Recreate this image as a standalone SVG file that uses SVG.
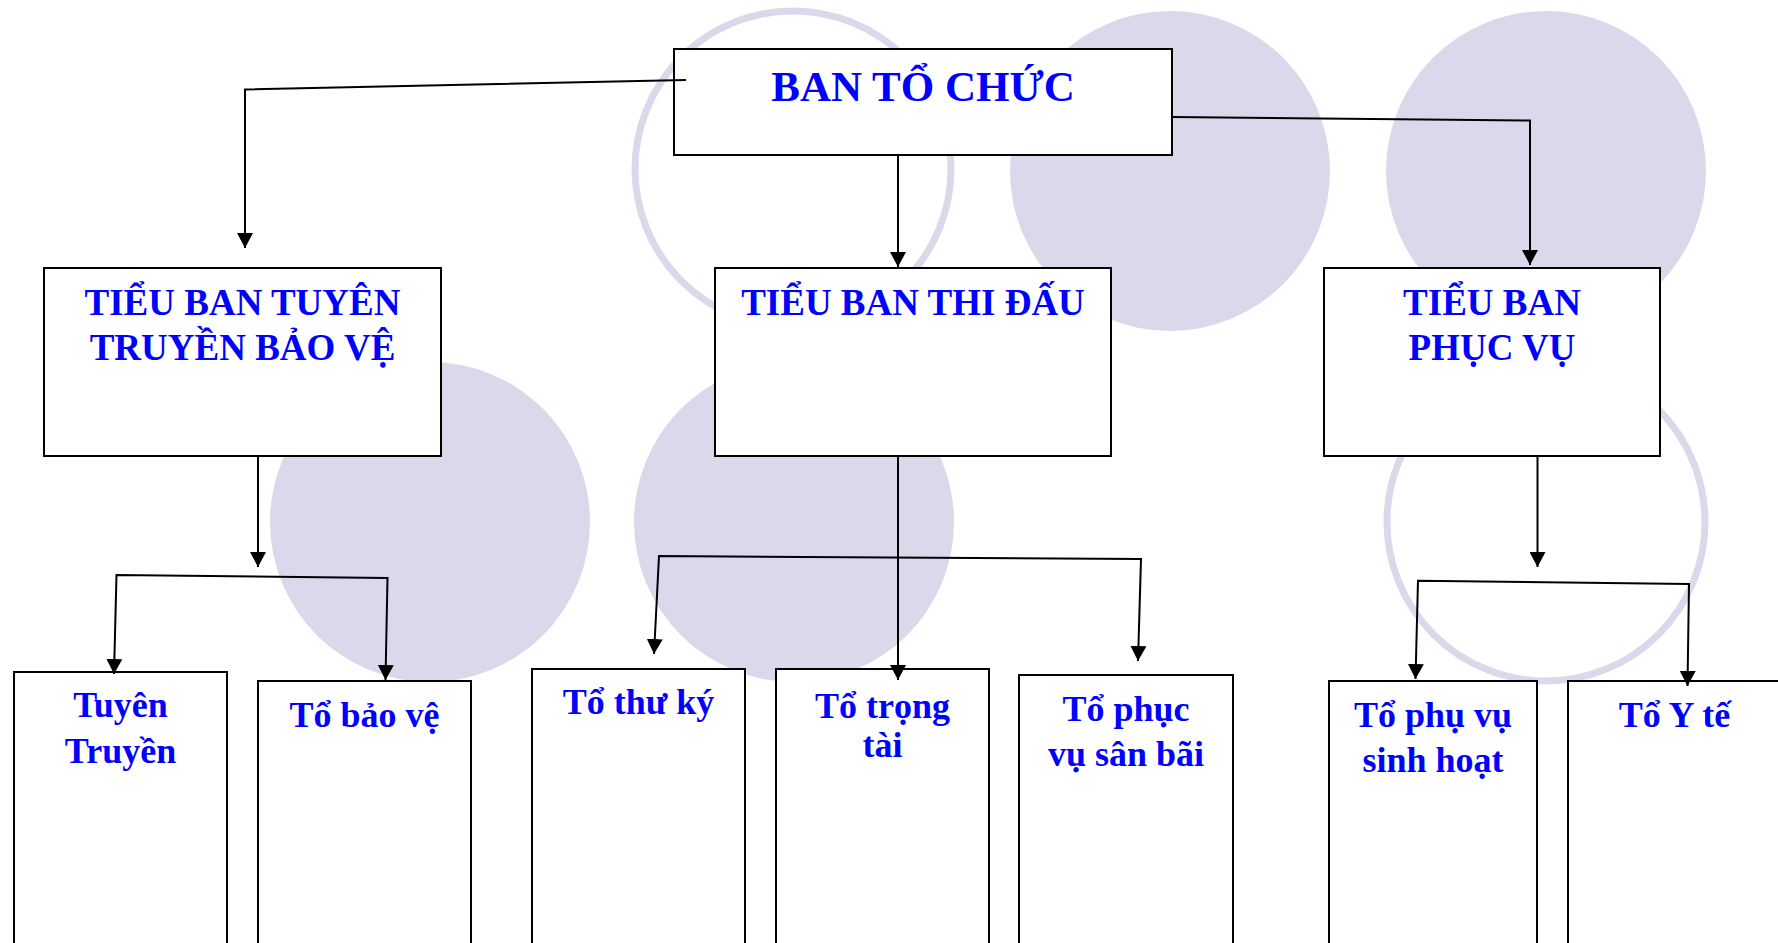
<svg xmlns="http://www.w3.org/2000/svg" width="1778" height="943" viewBox="0 0 1778 943">
<defs>
<style>
.bg{fill:#DAD9EC;stroke:none}
.ring{fill:none;stroke:#DAD9EC;stroke-width:7}
.box{fill:#FFFFFF;stroke:#000000;stroke-width:2}
.t{font-family:"Liberation Serif","Times New Roman",serif;font-weight:bold;fill:#0000FF;text-anchor:middle}
.t43{font-size:43px}
.t37{font-size:37px}
.t36{font-size:36px}
.c{fill:none;stroke:#000000;stroke-width:2;marker-end:url(#arr)}
.cb{fill:none;stroke:#000000;stroke-width:2;marker-end:url(#arr);marker-start:url(#arr)}
</style>
<marker id="arr" markerUnits="userSpaceOnUse" markerWidth="16" markerHeight="16" refX="15" refY="8" orient="auto-start-reverse">
<path d="M0,0 L15,8 L0,16 z" fill="#000000"/>
</marker>
</defs>
<rect x="0" y="0" width="1778" height="943" fill="#FFFFFF"/>
<g id="background">
<circle class="ring" cx="793" cy="169" r="158"/>
<circle class="bg" cx="1170" cy="171" r="160"/>
<circle class="bg" cx="1546" cy="171" r="160"/>
<circle class="bg" cx="430" cy="522" r="160"/>
<circle class="bg" cx="794" cy="522" r="160"/>
<circle class="ring" cx="1546" cy="522" r="159"/>
</g>
<g id="node-ban-to-chuc">
<rect class="box" x="674" y="49" width="498" height="106"/>
<text class="t t43" x="923" y="101">BAN TỔ CHỨC</text>
</g>
<g id="node-tieu-ban-tuyen-truyen">
<rect class="box" x="44" y="268" width="397" height="188"/>
<text class="t t37" x="242.5" y="315">TIỂU BAN TUYÊN</text>
<text class="t t37" x="242.5" y="360">TRUYỀN BẢO VỆ</text>
</g>
<g id="node-tieu-ban-thi-dau">
<rect class="box" x="715" y="268" width="396" height="188"/>
<text class="t t37" x="913" y="315">TIỂU BAN THI ĐẤU</text>
</g>
<g id="node-tieu-ban-phuc-vu">
<rect class="box" x="1324" y="268" width="336" height="188"/>
<text class="t t37" x="1492" y="315">TIỂU BAN</text>
<text class="t t37" x="1492" y="360">PHỤC VỤ</text>
</g>
<g id="node-tuyen-truyen">
<rect class="box" x="14" y="672" width="213" height="290"/>
<text class="t t36" x="120.5" y="717">Tuyên</text>
<text class="t t36" x="120.5" y="763">Truyền</text>
</g>
<g id="node-to-bao-ve">
<rect class="box" x="258" y="681" width="213" height="290"/>
<text class="t t36" x="364.5" y="727">Tổ bảo vệ</text>
</g>
<g id="node-to-thu-ky">
<rect class="box" x="532" y="669" width="213" height="290"/>
<text class="t t36" x="638.5" y="714">Tổ thư ký</text>
</g>
<g id="node-to-trong-tai">
<rect class="box" x="776" y="669" width="213" height="290"/>
<text class="t t36" x="882.5" y="718">Tổ trọng</text>
<text class="t t36" x="882.5" y="757">tài</text>
</g>
<g id="node-to-phuc-vu-san-bai">
<rect class="box" x="1019" y="675" width="214" height="290"/>
<text class="t t36" x="1126" y="721">Tổ phục</text>
<text class="t t36" x="1126" y="766">vụ sân bãi</text>
</g>
<g id="node-to-phu-vu-sinh-hoat">
<rect class="box" x="1329" y="681" width="208" height="290"/>
<text class="t t36" x="1433" y="727">Tổ phụ vụ</text>
<text class="t t36" x="1433" y="772">sinh hoạt</text>
</g>
<g id="node-to-y-te">
<rect class="box" x="1568" y="681" width="213" height="290"/>
<text class="t t36" x="1674.5" y="727">Tổ Y tế</text>
</g>
<g id="connectors">
<polyline class="c" points="686,80 245,89.5 245,248"/>
<polyline class="c" points="898,155 898,267"/>
<polyline class="c" points="1172,117 1530,120.5 1530,265"/>
<polyline class="c" points="258,456 258,567"/>
<polyline class="cb" points="114,674 116.5,575 387.5,578 385.5,680"/>
<polyline class="c" points="898,456 898,680"/>
<polyline class="cb" points="654,654 659,556 1141,559 1138,661"/>
<polyline class="c" points="1537.5,456 1537.5,567"/>
<polyline class="cb" points="1415.5,679 1418,580.7 1689,584 1687.5,686"/>
</g>
</svg>
